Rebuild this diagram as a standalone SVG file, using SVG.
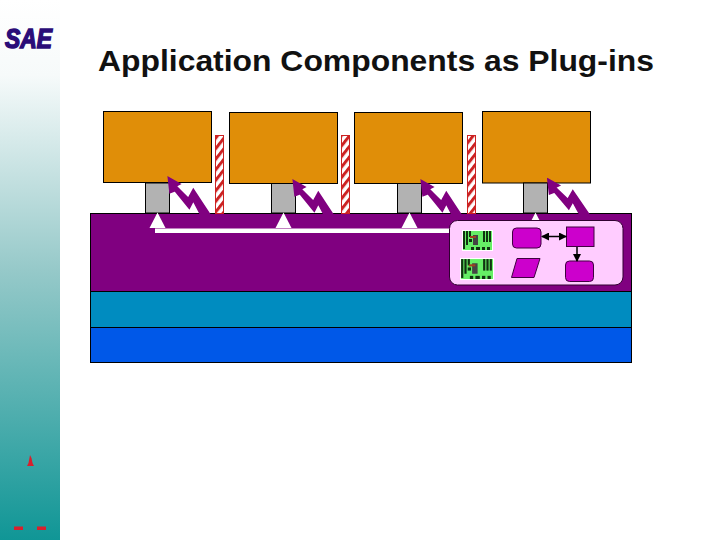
<svg xmlns="http://www.w3.org/2000/svg" xmlns:xlink="http://www.w3.org/1999/xlink" width="720" height="540" viewBox="0 0 720 540">
<style>
.app{fill:#e08e08;stroke:#000;stroke-width:1}
.port{fill:#b2b2b2;stroke:#000;stroke-width:1}
.hatch{fill:url(#h);stroke:#cc2222;stroke-width:1}
.mag{fill:#cc00cc;stroke:#400040;stroke-width:1}
.tri{fill:#fff}
.bolt{fill:#800080;stroke:#800080;stroke-width:1.500;stroke-linejoin:miter}
.red{fill:#d8202c}
.link{stroke:#000;stroke-width:1.500;fill:none}
</style>
<defs>
<linearGradient id="side" x1="0" y1="0" x2="0" y2="1">
<stop offset="0" stop-color="#ffffff"/><stop offset="0.14" stop-color="#f6fafa"/><stop offset="0.5" stop-color="#96c9c9"/><stop offset="1" stop-color="#109696"/>
</linearGradient>
<pattern id="h" width="6.500" height="6.500" patternUnits="userSpaceOnUse" patternTransform="rotate(-52)">
<rect width="6.500" height="6.500" fill="#fff"/><rect width="6.500" height="3" fill="#cc2222"/>
</pattern>
<polygon id="b" class="bolt" points="168.300,177.300 180,184 176,186 188.300,198.300 193.300,189.300 209.300,213.500 200,213.500 193.300,200.700 189.300,208.300 175,190.700 170,192.700"/>
<marker id="ah" markerWidth="8" markerHeight="8" refX="7" refY="4" orient="auto-start-reverse" markerUnits="userSpaceOnUse"><path d="M0,0L8,4L0,8z" fill="#000"/></marker>
<g id="chip">
<rect x="0" y="0" width="31" height="21" fill="#fff"/>
<rect x="1" y="1" width="29" height="19" fill="#66ee66"/>
<rect x="1" y="1" width="2" height="18" fill="#113311"/><rect x="4" y="1" width="2" height="14" fill="#113311"/><rect x="7" y="1" width="2" height="6" fill="#113311"/>
<rect x="7" y="9" width="3" height="3" fill="#113311"/>
<rect x="11" y="5" width="5" height="10" fill="#444"/><rect x="8" y="6" width="6" height="2" fill="#a04020"/>
<rect x="21" y="1" width="2" height="11" fill="#113311"/><rect x="24" y="1" width="2" height="11" fill="#113311"/><rect x="27" y="1" width="2" height="11" fill="#113311"/>
<rect x="9" y="17" width="3" height="3" fill="#113311"/><rect x="14" y="17" width="4" height="3" fill="#113311"/><rect x="20" y="17" width="3" height="3" fill="#113311"/><rect x="25" y="17" width="3" height="3" fill="#113311"/>
</g>
</defs>

<rect id="sidebar" x="0" y="0" width="60" height="540" fill="url(#side)"/>
<text id="logo" x="5" y="48" font-family="'Liberation Sans',Arial,sans-serif" font-size="27" font-weight="bold" font-style="italic" fill="#2a0c78" stroke="#2a0c78" stroke-width="1.500" textLength="47" lengthAdjust="spacingAndGlyphs">SAE</text>
<polygon class="red" points="28.500,463 30,455 31.500,458 32.500,463 34,466 27,466"/>
<rect class="red" x="14" y="526.500" width="9" height="3.500"/>
<rect class="red" x="37" y="526.500" width="9" height="3.500"/>

<text id="title" x="98" y="71" font-family="'Liberation Sans',Arial,sans-serif" font-size="29.500" font-weight="bold" fill="#111" textLength="556" lengthAdjust="spacingAndGlyphs">Application Components as Plug-ins</text>

<g id="layer-purple"><rect x="90.500" y="213.500" width="541" height="78" fill="#800080" stroke="#000" stroke-width="1"/></g>
<g id="layer-teal"><rect x="90.500" y="291.500" width="541" height="36" fill="#008cc0" stroke="#000" stroke-width="1"/></g>
<g id="layer-blue"><rect x="90.500" y="327.500" width="541" height="35" fill="#0058e8" stroke="#000" stroke-width="1"/></g>

<g id="app1"><rect class="app" x="103.500" y="111.500" width="108" height="71"/><rect class="port" x="145.500" y="183" width="24" height="30"/></g>
<g id="app2"><rect class="app" x="229.500" y="112.500" width="108" height="71"/><rect class="port" x="271.500" y="183.500" width="24" height="29.500"/></g>
<g id="app3"><rect class="app" x="354.500" y="112.500" width="108" height="71"/><rect class="port" x="397.500" y="183.500" width="24" height="29.500"/></g>
<g id="app4"><rect class="app" x="482.500" y="111.500" width="108" height="71.500"/><rect class="port" x="523.500" y="183" width="24" height="30"/></g>

<g id="hatches">
<rect class="hatch" x="215.500" y="135.500" width="8" height="78"/>
<rect class="hatch" x="341.500" y="135.500" width="8" height="78"/>
<rect class="hatch" x="467.500" y="135.500" width="8" height="78"/>
</g>

<g id="connectors">
<use xlink:href="#b" href="#b"/>
<use xlink:href="#b" href="#b" transform="translate(125,3)"/>
<use xlink:href="#b" href="#b" transform="translate(253,3)"/>
<use xlink:href="#b" href="#b" transform="translate(379.500,7) scale(1 .97)"/>
<rect x="155" y="228.500" width="296" height="4.500" fill="#fff"/>
<polygon class="tri" points="157.500,212.500 149.500,228 165.500,228"/>
<polygon class="tri" points="283.500,212.500 275.500,228 291.500,228"/>
<polygon class="tri" points="409.500,212.500 401.500,228 417.500,228"/>
<polygon class="tri" points="535.500,212.500 527.500,228 543.500,228"/>
</g>

<g id="panel">
<rect x="449.500" y="220.500" width="173.500" height="64.500" rx="8" fill="#ffccff" stroke="#300030" stroke-width="1"/>
<use xlink:href="#chip" href="#chip" x="462" y="230"/>
<use xlink:href="#chip" href="#chip" transform="translate(460,258) scale(1.100 1.050)"/>
<rect class="mag" x="512.500" y="228" width="28.500" height="20" rx="4"/>
<rect class="mag" x="566.500" y="227" width="27.500" height="19.500"/>
<rect class="mag" x="565.500" y="261" width="28" height="20.500" rx="4"/>
<polygon class="mag" points="511.500,277.500 517,258.500 540,258.500 534,277.500"/>
<line class="link" x1="542" y1="236.500" x2="566" y2="236.500" marker-start="url(#ah)" marker-end="url(#ah)"/>
<line class="link" x1="577" y1="247" x2="577" y2="261" marker-end="url(#ah)"/>
</g>
</svg>
